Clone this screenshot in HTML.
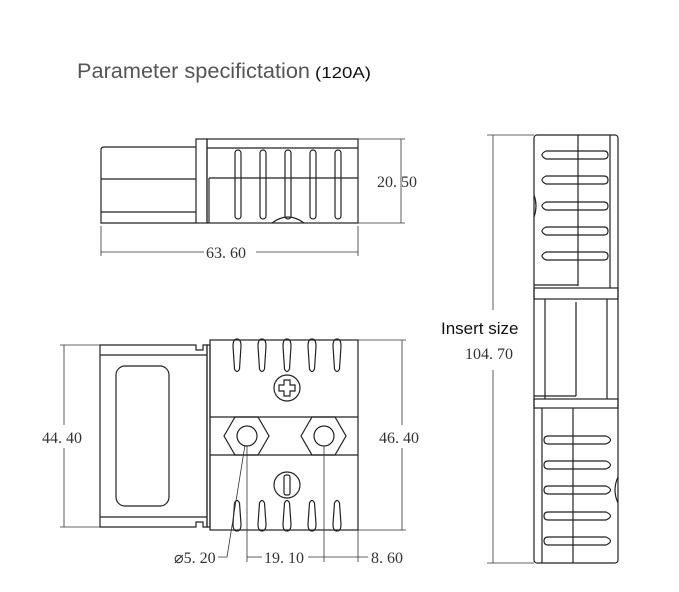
<!DOCTYPE html>
<html><head><meta charset="utf-8"><style>
html,body{margin:0;padding:0;background:#fff;}
svg{display:block;}
.l{fill:none;stroke:#222;stroke-width:1.2;}
.t{stroke:#333;stroke-width:0.8;fill:none;}
.d{font-family:"Liberation Serif",serif;font-size:16px;fill:#333;}
</style></head><body>
<svg width="679" height="592" viewBox="0 0 679 592" xmlns="http://www.w3.org/2000/svg">
<text x="77" y="78" font-family="Liberation Sans,sans-serif" font-size="21.5" fill="#555" textLength="233" lengthAdjust="spacingAndGlyphs">Parameter specifictation</text>
<text x="315" y="78" font-family="Liberation Sans,sans-serif" font-size="16" fill="#111" textLength="56" lengthAdjust="spacingAndGlyphs">(120A)</text>

<!-- TOP VIEW -->
<g class="l">
<path d="M196 147 H104 Q101 147 101 150 V223 H196"/>
<line x1="101" y1="179" x2="196" y2="179"/>
<line x1="101" y1="212" x2="196" y2="212"/>
<rect x="196" y="139" width="11" height="84"/>
<rect x="207" y="139" width="151" height="84"/>
<line x1="207" y1="148" x2="358" y2="148"/>
<line x1="209" y1="178" x2="358" y2="178"/>
<line x1="209" y1="178" x2="209" y2="223"/>
<path d="M272 223 Q288 211 304 223"/>
</g>
<g class="l">
<rect x="235" y="150" width="6" height="69" rx="3"/>
<rect x="260" y="150" width="6" height="69" rx="3"/>
<rect x="285" y="150" width="6" height="69" rx="3"/>
<rect x="310" y="150" width="6" height="69" rx="3"/>
<rect x="335" y="150" width="6" height="69" rx="3"/>
</g>
<g class="t">
<line x1="358" y1="139" x2="405" y2="139"/><line x1="358" y1="223" x2="405" y2="223"/>
<line x1="401" y1="139" x2="401" y2="223"/>
<line x1="101" y1="226" x2="101" y2="256"/><line x1="358" y1="226" x2="358" y2="256"/>
<line x1="101" y1="252" x2="204" y2="252"/><line x1="256" y1="252" x2="358" y2="252"/>
</g>
<text class="d" x="377" y="187">20. 50</text>
<text class="d" x="206" y="258">63. 60</text>

<!-- BOTTOM VIEW -->
<g class="l">
<path d="M100 345 H196 V350 H203 V345 H207 V527 H203 V522 H196 V527 H100 Z"/>
<line x1="100" y1="355" x2="207" y2="355"/>
<line x1="100" y1="517" x2="207" y2="517"/>
<rect x="116" y="366" width="53" height="140" rx="9"/>
<rect x="207" y="345" width="3" height="182"/>
<rect x="210" y="340" width="148" height="190"/>
<line x1="210" y1="417" x2="358" y2="417"/>
<line x1="210" y1="455" x2="358" y2="455"/>
<polygon points="224,436 235,417 258,417 269,436 258,455 235,455"/>
<polygon points="301,436 312,417 335,417 346,436 335,455 312,455"/>
<circle cx="247" cy="436" r="10"/>
<circle cx="324" cy="436" r="10"/>
<circle cx="287" cy="388" r="13"/>
<path d="M284 380 H290 V385 H295 V391 H290 V396 H284 V391 H279 V385 H284 Z"/>
<circle cx="287" cy="485" r="13"/>
<rect x="284" y="475" width="6" height="20" rx="2"/>
</g>
<g class="l">
<path d="M233 346 Q233 339 237 339 Q241 339 241 346 L239.5 369 Q237 374 234.5 369 Z"/>
<path d="M258 346 Q258 339 262 339 Q266 339 266 346 L264.5 369 Q262 374 259.5 369 Z"/>
<path d="M283 346 Q283 339 287 339 Q291 339 291 346 L289.5 369 Q287 374 284.5 369 Z"/>
<path d="M308 346 Q308 339 312 339 Q316 339 316 346 L314.5 369 Q312 374 309.5 369 Z"/>
<path d="M333 346 Q333 339 337 339 Q341 339 341 346 L339.5 369 Q337 374 334.5 369 Z"/>
<path d="M233 524 Q233 531 237 531 Q241 531 241 524 L239.5 503 Q237 498 234.5 503 Z"/>
<path d="M258 524 Q258 531 262 531 Q266 531 266 524 L264.5 503 Q262 498 259.5 503 Z"/>
<path d="M283 524 Q283 531 287 531 Q291 531 291 524 L289.5 503 Q287 498 284.5 503 Z"/>
<path d="M308 524 Q308 531 312 531 Q316 531 316 524 L314.5 503 Q312 498 309.5 503 Z"/>
<path d="M333 524 Q333 531 337 531 Q341 531 341 524 L339.5 503 Q337 498 334.5 503 Z"/>
</g>
<g class="t">
<line x1="60" y1="345" x2="100" y2="345"/><line x1="60" y1="527" x2="100" y2="527"/>
<line x1="64" y1="345" x2="64" y2="425"/><line x1="64" y1="448" x2="64" y2="527"/>
<line x1="358" y1="340" x2="406" y2="340"/><line x1="358" y1="530" x2="406" y2="530"/>
<line x1="402" y1="340" x2="402" y2="425"/><line x1="402" y1="448" x2="402" y2="530"/>
<line x1="247" y1="446" x2="247" y2="562"/>
<line x1="324" y1="446" x2="324" y2="562"/>
<line x1="358" y1="530" x2="358" y2="562"/>
<line x1="247" y1="557" x2="262" y2="557"/>
<line x1="308" y1="557" x2="368" y2="557"/>
<polyline points="218,557 227,557 245,445"/>
</g>
<text class="d" x="42" y="443">44. 40</text>
<text class="d" x="379" y="443">46. 40</text>
<text class="d" x="174" y="563">⌀5. 20</text>
<text class="d" x="264" y="563">19. 10</text>
<text class="d" x="371" y="563">8. 60</text>

<!-- SIDE VIEW -->
<g class="t">
<line x1="487" y1="135" x2="534" y2="135"/><line x1="487" y1="563" x2="534" y2="563"/>
<line x1="493" y1="135" x2="493" y2="310"/><line x1="493" y1="370" x2="493" y2="563"/>
</g>
<g class="l">
<rect x="534" y="135" width="84" height="428" rx="3"/>
<line x1="578" y1="135" x2="578" y2="286"/>
<line x1="610" y1="135" x2="610" y2="288"/>
<line x1="534" y1="285" x2="578" y2="285"/>
<rect x="534" y="288" width="84" height="11"/>
<line x1="545" y1="299" x2="545" y2="399"/>
<line x1="576" y1="302" x2="576" y2="396"/>
<line x1="607" y1="299" x2="607" y2="399"/>
<line x1="534" y1="396" x2="576" y2="396"/>
<rect x="534" y="399" width="84" height="9"/>
<line x1="542" y1="408" x2="542" y2="563"/>
<line x1="573" y1="408" x2="573" y2="563"/>
<path d="M534 195 Q538 206 534 217"/>
<path d="M618 477 Q612 490 618 503"/>
</g>
<g class="l">
<path d="M604 151 Q608 151 608 155 Q608 159 604 159 H546 Q538 155 546 151 Z"/>
<path d="M604 176 Q608 176 608 180 Q608 184 604 184 H546 Q538 180 546 176 Z"/>
<path d="M604 202 Q608 202 608 206 Q608 210 604 210 H546 Q538 206 546 202 Z"/>
<path d="M604 227 Q608 227 608 231 Q608 235 604 235 H546 Q538 231 546 227 Z"/>
<path d="M604 252 Q608 252 608 256 Q608 260 604 260 H546 Q538 256 546 252 Z"/>
<path d="M548 436 Q544 436 544 440 Q544 444 548 444 H606 Q615 440 606 436 Z"/>
<path d="M548 461 Q544 461 544 465 Q544 469 548 469 H606 Q615 465 606 461 Z"/>
<path d="M548 486 Q544 486 544 490 Q544 494 548 494 H606 Q615 490 606 486 Z"/>
<path d="M548 512 Q544 512 544 516 Q544 520 548 520 H606 Q615 516 606 512 Z"/>
<path d="M548 537 Q544 537 544 541 Q544 545 548 545 H606 Q615 541 606 537 Z"/>
</g>
<text x="441" y="334" font-family="Liberation Sans,sans-serif" font-size="17" fill="#111">Insert size</text>
<text class="d" x="465" y="359">104. 70</text>
</svg>
</body></html>
